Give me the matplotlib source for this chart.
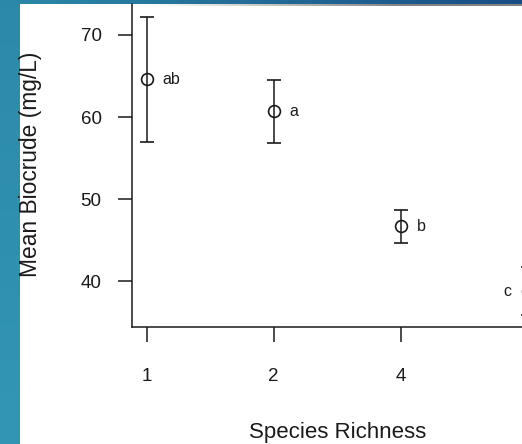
import matplotlib.pyplot as plt
import numpy as np

plt.rcParams['font.family'] = ['Liberation Sans', 'DejaVu Sans']

richness = ['1', '2', '4', '8']
mean_biocrude = [64.6, 60.7, 46.7, 38.8]
se_biocrude = [7.6, 3.8, 2.0, 2.9]
groups = ['ab', 'a', 'b', 'c']

W, H = 522, 444
fig = plt.figure(figsize=(W / 100, H / 100), dpi=100)

# slide background: teal strip on the left, blue band on top, white panel
bg = np.ones((H, W, 3))
yy, xx = np.mgrid[0:H, 0:W]
teal = np.array([0.17, 0.54, 0.66])
navy = np.array([0.10, 0.30, 0.52])
t = (xx / W)[..., None]
band = teal * (1 - t) + navy * t
left_strip = teal + (yy / H)[..., None] * np.array([0.03, 0.05, 0.04])
mask_top = yy < 5
mask_left = xx < 20
bg[mask_left] = left_strip[mask_left]
bg[mask_top] = band[mask_top]
shadow = (yy >= 5) & (yy < 7) & (xx >= 20)
fade = np.clip((xx - 150) / 250, 0, 1)[..., None]
bg[shadow] = (bg * (1 - 0.7 * fade) + 0.3 * 0.7 * fade)[shadow]

ax_bg = fig.add_axes([0, 0, 1, 1], zorder=-1)
ax_bg.imshow(bg, aspect='auto', interpolation='nearest')
ax_bg.axis('off')

left, right, bottom, top = 131.5, 543, 327, 4
ax = fig.add_axes([left / W, (H - bottom) / H, (right - left) / W, (bottom - top) / H])
ax.patch.set_alpha(0)

x = np.arange(len(richness))
col = '#1a1a1a'
ax.errorbar(x, mean_biocrude, yerr=se_biocrude, fmt='o', mfc='none', mec=col,
            ms=8.5, mew=1.2, ecolor=col, elinewidth=1.1, capsize=4.7, capthick=1.1)

for i, (m, g) in enumerate(zip(mean_biocrude, groups)):
    if i < len(groups) - 1:
        ax.annotate(g, (x[i], m), xytext=(11.5, 0), textcoords='offset points',
                    ha='left', va='center', fontsize=11.5, color=col)
    else:
        ax.annotate(g, (x[i], m), xytext=(-11.5, 0), textcoords='offset points',
                    ha='right', va='center', fontsize=11.5, color=col)

ax.set_xlim(-0.12, 3.12)
ax.set_ylim(34.45, 73.76)
# the last category sits past the right edge of the figure
ax.set_xticks(x[:3], richness[:3])
ax.set_yticks([40, 50, 60, 70])

for s in ['left', 'bottom', 'right', 'top']:
    ax.spines[s].set_color(col)
    ax.spines[s].set_linewidth(1.1)
ax.spines['top'].set_visible(False)

ax.tick_params(axis='y', length=10, width=1.1, pad=11.5, labelsize=13.5, color=col, labelcolor=col)
ax.tick_params(axis='x', length=10.8, width=1.1, pad=19, labelsize=13.5, color=col, labelcolor=col)

ax.set_xlabel('Species Richness', fontsize=16, color=col)
ax.set_ylabel('Mean Biocrude (mg/L)', fontsize=16.4, color=col)
ax.xaxis.set_label_coords(0.5, -0.328)
ax.xaxis.label.set_va('center')
ax.yaxis.set_label_coords((31 - left) / (right - left), (bottom - 164) / (bottom - top))
ax.yaxis.label.set_va('center')

fig.savefig('out.png', dpi=100)
